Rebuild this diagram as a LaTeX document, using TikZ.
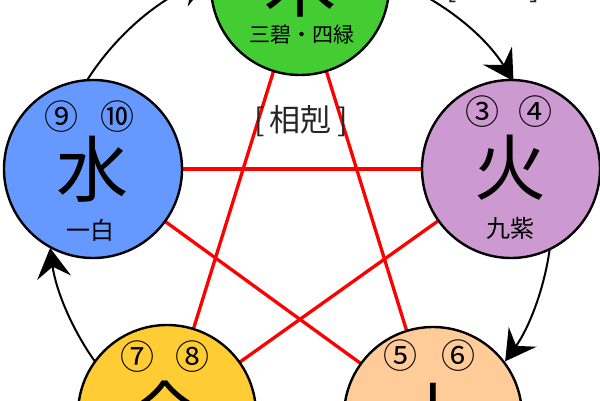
\documentclass[tikz,border=0pt]{standalone}
\usepackage{fontspec}
\newfontfamily\cjk{Noto Sans CJK JP}
\usetikzlibrary{arrows.meta,backgrounds,calc}
\definecolor{cgreen}{RGB}{68,204,51}
\definecolor{cblue}{RGB}{102,153,255}
\definecolor{cpurple}{RGB}{204,153,208}
\definecolor{cyellow}{RGB}{255,204,51}
\definecolor{cpeach}{RGB}{255,204,153}
\begin{document}
\begin{tikzpicture}[x=1pt,y=1pt,
  elem/.style={circle,draw=black,line width=2.4pt,minimum size=178pt,inner sep=0pt},
  kline/.style={red,line width=3.3pt},
  sarc/.style={line width=2pt,-{Stealth[length=30pt,width=34pt,inset=11pt]}},
  big/.style={font=\cjk\fontsize{72}{72}\selectfont,inner sep=0pt},
  num/.style={font=\cjk\fontsize{34}{34}\selectfont,inner sep=0pt},
  sub/.style={font=\cjk\fontsize{24}{24}\selectfont,inner sep=0pt},
  subs/.style={font=\cjk\fontsize{21}{21}\selectfont,inner sep=0pt},
  tag/.style={font=\cjk\fontsize{31}{31}\selectfont,inner sep=0pt,text=black!85}]
\useasboundingbox (0,0) rectangle (600,400);
% element circles
\node[elem,fill=cgreen]  (g)  at (300,414) {};
\node[elem,fill=cblue]   (b)  at (93,231)  {};
\node[elem,fill=cpurple] (p)  at (511,231) {};
\node[elem,fill=cyellow] (yl) at (167,-14) {};
\node[elem,fill=cpeach]  (o)  at (433,-16) {};
% texts
\node[big]  (gch) at (300,416) {木};
\node[subs] (gsub) at (302,365) {三碧・四緑};
\node[num]  (bn1) at (61,283) {⑨};
\node[num]  (bn2) at (117,283) {⑩};
\node[big]  (bch) at (92,231) {水};
\node[sub]  (bsub) at (90,170) {一白};
\node[num]  (pn1) at (482,288) {③};
\node[num]  (pn2) at (535,288) {④};
\node[big]  (pch) at (510,232) {火};
\node[sub]  (psub) at (510,172) {九紫};
\node[num]  (yn1) at (137,43) {⑦};
\node[num]  (yn2) at (192,43) {⑧};
\node[big]  (ych) at (165,-13) {金};
\node[num]  (on1) at (400,44) {⑤};
\node[num]  (on2) at (458,44) {⑥};
\node[big]  (och) at (433,-15) {土};
\node[tag]  (kok) at (301,279) {[\,相剋\,]};
\node[tag]  (sei) at (493,413) {[\,相生\,]};
% red star behind the circles
\begin{scope}[on background layer]
\fill[white] (0,0) rectangle (600,400);
\draw[kline] (g.center) -- (yl.center);
\draw[kline] (g.center) -- (o.center);
\draw[kline] (b.center) -- (p.center);
\draw[kline] (b.center) -- (o.center);
\draw[kline] (p.center) -- (yl.center);
\end{scope}
% generating cycle arcs
\coordinate (C) at (300,185);
\draw[sarc] ($(C)+(147.5:252pt)$) arc[start angle=147.5,end angle=111,radius=252pt];
\draw[sarc] ($(C)+(69.3:252pt)$) arc[start angle=69.3,end angle=32.1,radius=252pt];
\draw[sarc] ($(C)+(-8:252pt)$) arc[start angle=-8,end angle=-35.5,radius=252pt];
\draw[sarc] ($(C)+(215.4:252pt)$) arc[start angle=215.4,end angle=187.5,radius=252pt];
\end{tikzpicture}
\end{document}
